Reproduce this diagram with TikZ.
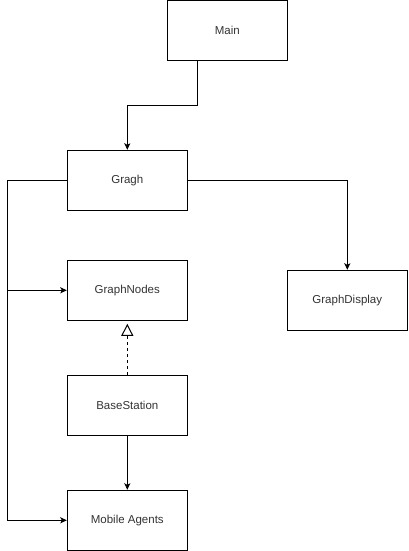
\documentclass[tikz,border=0pt]{standalone}
\usepackage{fontspec}
\setmainfont{Liberation Sans}
\usetikzlibrary{arrows.meta,positioning}
\definecolor{labelgray}{HTML}{333333}

\tikzset{
    classbox/.style={draw, line width=1pt, minimum width=120pt, minimum height=60pt,
        inner sep=0pt, text=labelgray, font=\fontsize{11.5}{13}\selectfont},
    assoc/.style={line width=1pt, -{Stealth[length=6.5pt,width=6pt,inset=1.5pt]}},
    realize/.style={line width=1pt, dash pattern=on 3pt off 3pt, shorten >=3pt,
        -{Triangle[open,length=12pt,width=12pt,line width=1pt]}}
}

\begin{document}
\begin{tikzpicture}[x=1pt,y=-1pt]
\useasboundingbox (0,0) rectangle (408,551);

\node[classbox] (main) at (227.3,30.3) {Main};
\node[classbox] (gragh) at (127.3,180.3) {Gragh};
\node[classbox] (nodes) at (127.3,290.3) {GraphNodes};
\node[classbox] (display) at (347.3,300.3) {GraphDisplay};
\node[classbox] (base) at (127.3,405.3) {BaseStation};
\node[classbox] (agents) at (127.3,520.3) {Mobile Agents};

\coordinate (rail) at (7.7,0);

\draw[assoc] ([xshift=-30pt]main.south) -- ++(0,45) -| (gragh.north);
\draw[assoc] (gragh.east) -| (display.north);

\draw[assoc] (gragh.west) -- (gragh.west -| rail) |- (agents.west);
\draw[assoc] (nodes.west -| rail) -- (nodes.west);

\draw[realize] (base.north) -- (nodes.south);
\draw[assoc] (base.south) -- (agents.north);
\end{tikzpicture}
\end{document}
